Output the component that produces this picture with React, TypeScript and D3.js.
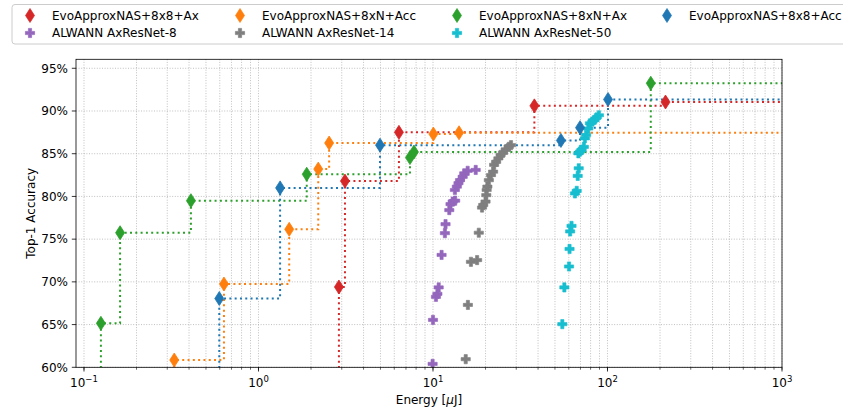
import React, { useEffect, useRef } from "react";
import * as d3 from "d3";

type Pt = [number, number];

// EvoApproxNAS pareto fronts: [energy uJ, top-1 accuracy %]
const evo8x8Ax: Pt[] = [[2.89, 69.4], [3.13, 81.8], [6.38, 87.5], [38.1, 90.6], [215, 91.05]];
const evo8xNAcc: Pt[] = [[0.329, 60.85], [0.634, 69.75], [1.5, 76.15], [2.2, 83.2], [2.54, 86.25], [10.05, 87.3], [14.1, 87.45]];
const evo8xNAx: Pt[] = [[0.125, 65.15], [0.161, 75.75], [0.41, 79.5], [1.89, 82.6], [7.38, 84.55], [7.78, 85.2], [177, 93.25]];
const evo8x8Acc: Pt[] = [[0.596, 68.05], [1.33, 81.0], [4.97, 86.0], [54.1, 86.55], [69.6, 88.05], [100.7, 91.35]];

// ALWANN approximate ResNets
const alwann8: Pt[] = [
  [9.95, 60.4], [10.0, 65.55], [10.4, 68.25], [10.6, 68.6], [10.78, 69.35], [11.2, 73.15],
  [11.7, 75.7], [11.8, 76.75], [12.4, 78.4], [12.6, 79.1], [12.97, 79.4], [13.4, 79.5],
  [13.35, 80.75], [13.7, 81.15], [14.0, 81.55], [14.28, 81.9], [14.8, 82.3], [15.1, 82.7],
  [15.8, 83.0], [17.57, 83.1],
];
const alwann14: Pt[] = [
  [15.4, 60.95], [15.85, 67.3], [16.5, 72.35], [17.9, 72.55], [18.3, 75.75], [19.1, 78.7],
  [19.4, 79.0], [20.0, 79.4], [20.2, 80.15], [20.3, 80.75], [20.5, 81.15], [20.9, 81.9],
  [21.5, 82.5], [22.1, 82.9], [22.4, 83.7], [23.0, 84.05], [23.7, 84.45], [24.4, 84.85],
  [25.2, 85.1], [26.1, 85.5], [27.2, 85.8], [28.0, 86.0],
];
const alwann50: Pt[] = [
  [55.1, 65.05], [56.6, 69.35], [60.2, 71.8], [60.6, 73.85], [61.1, 75.9], [62.2, 76.55],
  [65.1, 80.35], [66.6, 80.65], [67.5, 82.4], [68.4, 83.3], [68.1, 85.05], [69.5, 85.25],
  [71.1, 85.45], [73.2, 85.8], [74.2, 86.8], [75.4, 87.2], [77.6, 87.95], [79.3, 88.55],
  [81.9, 88.75], [84.3, 88.95], [86.8, 89.25], [89.3, 89.5],
];

const evoSeries = [evo8x8Ax, evo8xNAcc, evo8xNAx, evo8x8Acc];
const evoColors = ["#d62728", "#ff7f0e", "#2ca02c", "#1f77b4"];
const alwannSeries = [alwann8, alwann14, alwann50];
const alwannColors = ["#9467bd", "#7f7f7f", "#17becf"];

const legendLabels = [
  "EvoApproxNAS+8x8+Ax", "EvoApproxNAS+8xN+Acc", "EvoApproxNAS+8xN+Ax", "EvoApproxNAS+8x8+Acc",
  "ALWANN AxResNet-8", "ALWANN AxResNet-14", "ALWANN AxResNet-50",
];
const yTicks = [60, 65, 70, 75, 80, 85, 90, 95];
const xExps = [-1, 0, 1, 2, 3];

const diamond = "M0,-7L4.5,0L0,7L-4.5,0Z";
const plus = "M-1.6,-4.6H1.6V-1.6H4.6V1.6H1.6V4.6H-1.6V1.6H-4.6V-1.6H-1.6Z";

const App = () => {
  const svgRef = useRef<SVGSVGElement>(null);

  useEffect(() => {
    const svg = d3.select(svgRef.current);
    svg.selectAll("*").remove();

    const W = 843, H = 411;
    const left = 76, right = 782, top = 59.3, bottom = 367.3;

    const x = d3.scaleLog().domain([0.09, 1000]).range([left, right]);
    const y = d3.scaleLinear().domain([60, 96.05]).range([bottom, top]);

    svg.append("rect").attr("width", W).attr("height", H).attr("fill", "#fff");

    svg.append("clipPath").attr("id", "plotclip")
      .append("rect").attr("x", left).attr("y", top)
      .attr("width", right - left).attr("height", bottom - top);

    // grid (major + minor on x)
    const minor: number[] = [];
    for (let k = -2; k <= 3; k++) {
      for (let m = 1; m <= 9; m++) {
        const v = m * Math.pow(10, k);
        if (v > 0.0901 && v <= 1000) minor.push(v);
      }
    }
    const grid = svg.append("g");
    grid.selectAll(".vg").data(minor).enter().append("line")
      .attr("x1", (d) => x(d)).attr("x2", (d) => x(d))
      .attr("y1", top).attr("y2", bottom)
      .attr("stroke", "#b0b0b0").attr("stroke-width", 0.8)
      .attr("stroke-dasharray", "1,1.6");
    grid.selectAll(".hg").data(yTicks).enter().append("line")
      .attr("x1", left).attr("x2", right)
      .attr("y1", (d) => y(d)).attr("y2", (d) => y(d))
      .attr("stroke", "#b0b0b0").attr("stroke-width", 0.8)
      .attr("stroke-dasharray", "1,1.6");

    const plot = svg.append("g").attr("clip-path", "url(#plotclip)");

    // step lines
    const line = d3.line<Pt>()
      .x((d) => x(d[0]))
      .y((d) => y(d[1]))
      .curve(d3.curveStepAfter);
    evoSeries.forEach((s, i) => {
      const pts: Pt[] = [[s[0][0], 50], ...s, [5000, s[s.length - 1][1]]];
      plot.append("path")
        .attr("d", line(pts))
        .attr("fill", "none")
        .attr("stroke", evoColors[i])
        .attr("stroke-width", 2)
        .attr("stroke-dasharray", "2,3.3");
    });

    // ALWANN points
    alwannSeries.forEach((s, i) => {
      plot.append("g").selectAll("path").data(s).enter().append("path")
        .attr("d", plus)
        .attr("transform", (d) => `translate(${x(d[0])},${y(d[1])})`)
        .attr("fill", alwannColors[i])
        .attr("stroke", alwannColors[i])
        .attr("stroke-width", 0.6);
    });

    // Evo markers
    evoSeries.forEach((s, i) => {
      plot.append("g").selectAll("path").data(s).enter().append("path")
        .attr("d", diamond)
        .attr("transform", (d) => `translate(${x(d[0])},${y(d[1])})`)
        .attr("fill", evoColors[i])
        .attr("stroke", evoColors[i])
        .attr("stroke-width", 0.8);
    });

    // frame
    svg.append("rect")
      .attr("x", left).attr("y", top)
      .attr("width", right - left).attr("height", bottom - top)
      .attr("fill", "none").attr("stroke", "#000").attr("stroke-width", 0.8);

    // x ticks
    const ax = svg.append("g").attr("font-family", "DejaVu Sans").attr("font-size", 12);
    ax.selectAll(".xmin").data(minor.filter((v) => v >= 0.1)).enter().append("line")
      .attr("x1", (d) => x(d)).attr("x2", (d) => x(d))
      .attr("y1", bottom).attr("y2", bottom + 2.4)
      .attr("stroke", "#000").attr("stroke-width", 0.6);
    ax.selectAll(".xmaj").data(xExps).enter().append("line")
      .attr("x1", (d) => x(Math.pow(10, d))).attr("x2", (d) => x(Math.pow(10, d)))
      .attr("y1", bottom).attr("y2", bottom + 4.2)
      .attr("stroke", "#000").attr("stroke-width", 0.8);
    xExps.forEach((e) => {
      const t = ax.append("text")
        .attr("x", x(Math.pow(10, e)))
        .attr("y", 387)
        .attr("text-anchor", "middle")
        .attr("fill", "#000");
      t.append("tspan").text("10");
      t.append("tspan").attr("dy", -5).attr("font-size", 8.5)
        .text(e < 0 ? `\u2212${-e}` : `${e}`);
    });

    // y ticks
    ax.selectAll(".ymaj").data(yTicks).enter().append("line")
      .attr("x1", left - 4.2).attr("x2", left)
      .attr("y1", (d) => y(d)).attr("y2", (d) => y(d))
      .attr("stroke", "#000").attr("stroke-width", 0.8);
    ax.selectAll(".ylab").data(yTicks).enter().append("text")
      .attr("x", left - 8)
      .attr("y", (d) => y(d))
      .attr("dy", "0.36em")
      .attr("text-anchor", "end")
      .attr("fill", "#000")
      .text((d) => `${d}%`);

    const xl = ax.append("text")
      .attr("x", (left + right) / 2).attr("y", 404)
      .attr("text-anchor", "middle").attr("fill", "#000");
    xl.append("tspan").text("Energy [");
    xl.append("tspan").attr("font-style", "italic").text("\u03bc");
    xl.append("tspan").text("J]");
    ax.append("text")
      .attr("transform", `translate(35,${(top + bottom) / 2}) rotate(-90)`)
      .attr("text-anchor", "middle").attr("fill", "#000")
      .text("Top-1 Accuracy");

    // legend
    const lg = svg.append("g").attr("font-family", "DejaVu Sans").attr("font-size", 12);
    lg.append("rect")
      .attr("x", 12).attr("y", 4.5).attr("width", 860).attr("height", 39.5)
      .attr("rx", 3).attr("fill", "#fff").attr("fill-opacity", 0.8)
      .attr("stroke", "#ccc").attr("stroke-width", 1);
    const colX = [30, 240, 457, 667];
    const rowY = [15.5, 33];
    legendLabels.forEach((lab, i) => {
      const r = i < 4 ? 0 : 1;
      const c = i < 4 ? i : i - 4;
      const col = i < 4 ? evoColors[i] : alwannColors[i - 4];
      lg.append("path")
        .attr("d", i < 4 ? diamond : plus)
        .attr("transform", `translate(${colX[c]},${rowY[r]})`)
        .attr("fill", col).attr("stroke", col).attr("stroke-width", 0.7);
      lg.append("text")
        .attr("x", colX[c] + 22).attr("y", rowY[r]).attr("dy", "0.36em")
        .attr("fill", "#000")
        .text(lab);
    });
  }, []);

  return (
    <svg
      ref={svgRef}
      width={843}
      height={411}
      style={{ position: "absolute", left: 0, top: 0 }}
    />
  );
};

export default App;
